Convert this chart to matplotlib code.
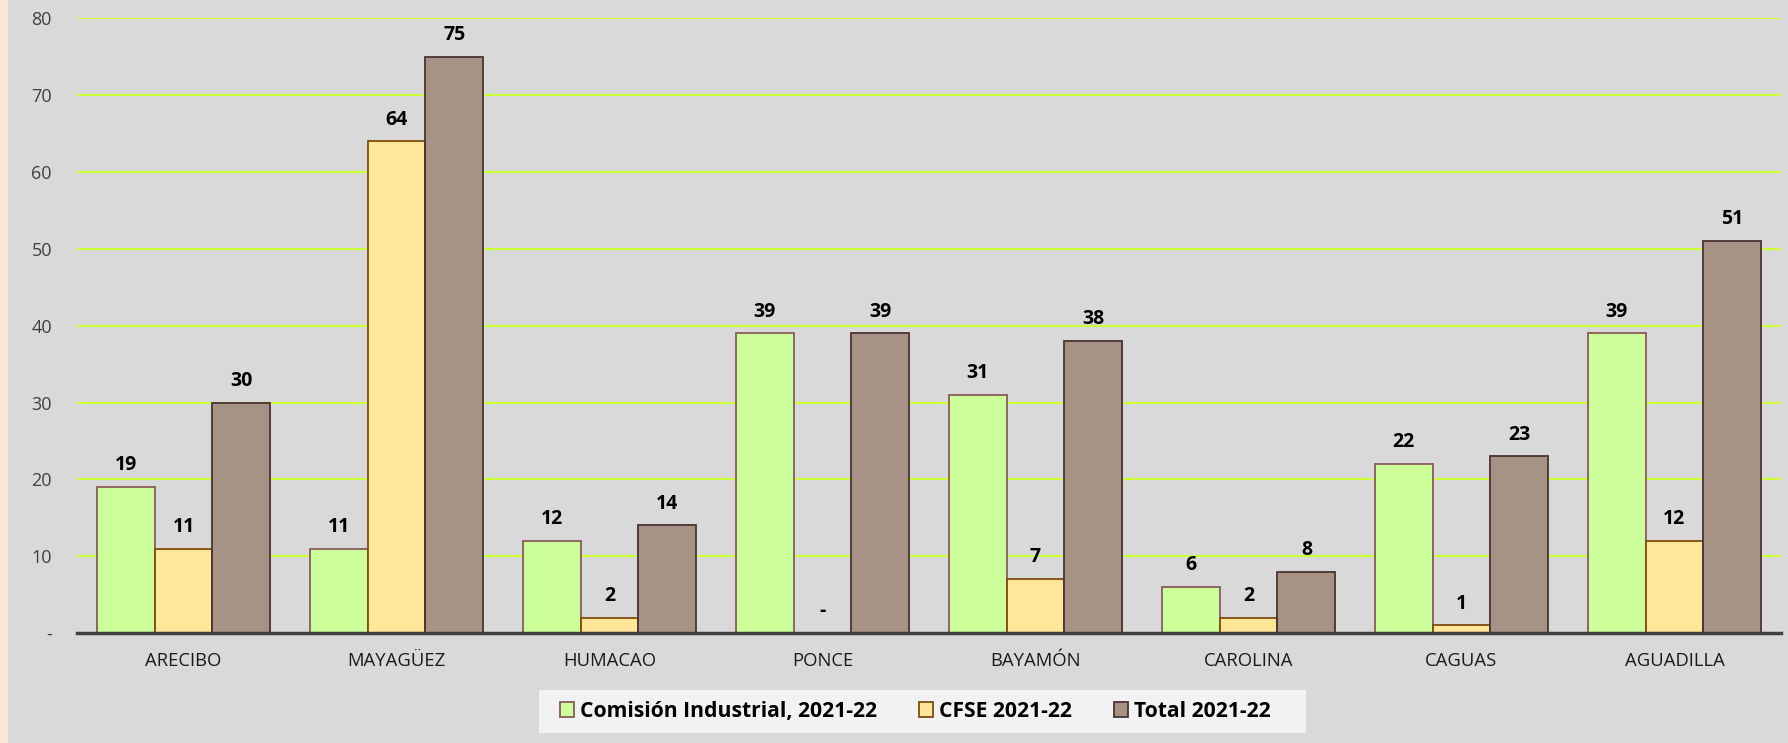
import matplotlib
matplotlib.use("Agg")
import matplotlib.pyplot as plt
import numpy as np
from matplotlib.patches import Rectangle

categories = ["ARECIBO", "MAYAGÜEZ", "HUMACAO", "PONCE", "BAYAMÓN", "CAROLINA", "CAGUAS", "AGUADILLA"]
comision = [19, 11, 12, 39, 31, 6, 22, 39]
cfse = [11, 64, 2, 0, 7, 2, 1, 12]
total = [30, 75, 14, 39, 38, 8, 23, 51]
series_names = ["Comisión Industrial, 2021-22", "CFSE 2021-22", "Total 2021-22"]
yticks = [0, 10, 20, 30, 40, 50, 60, 70, 80]
ytick_labels = ["-", "10", "20", "30", "40", "50", "60", "70", "80"]

W, H = 1788, 743
fig = plt.figure(figsize=(W / 100, H / 100), dpi=100)
fig.patch.set_facecolor("#D9D9D9")
fig.patches.append(Rectangle((0, 0), 8 / W, 1, transform=fig.transFigure,
                             facecolor="#FCE4D6", edgecolor="none"))
# legend background box
fig.patches.append(Rectangle((539 / W, 1 - 733 / H), (1306 - 539) / W, 43 / H,
                             transform=fig.transFigure, facecolor="#F2F2F2",
                             edgecolor="none", zorder=1))

ax = fig.add_axes([77 / W, 1 - 633 / H, (1781 - 77) / W, (633 - 18.5) / H])
ax.set_facecolor("#D9D9D9")

x = np.arange(len(categories))
bw = 0.272
fills = ["#CCFF99", "#FFE699", "#A69386"]
edges = ["#8A5A5A", "#7F4A10", "#4A3232"]
data = [comision, cfse, total]
for i, (vals, fc, ec, name) in enumerate(zip(data, fills, edges, series_names)):
    pos = x + (i - 1) * bw
    ax.bar(pos, vals, bw, color=fc, edgecolor=ec, linewidth=1.3, label=name, zorder=3)
    for p, v in zip(pos, vals):
        ax.annotate("-" if v == 0 else str(v), (p, v), xytext=(0, 8.5), textcoords="offset points",
                    ha="center", va="bottom", fontsize=14, fontweight="bold",
                    family="Open Sans", color="black", clip_on=False)

ax.set_xlim(-0.5, len(categories) - 0.5)
ax.set_ylim(0, 80)
ax.set_yticks(yticks)
ax.set_yticklabels(ytick_labels, family="Open Sans", fontsize=13, color="#404040")
ax.set_xticks(x)
ax.set_xticklabels(categories, family="Open Sans", fontsize=13.3, color="#1a1a1a")
ax.tick_params(axis="both", length=0)
ax.tick_params(axis="y", pad=18)
ax.tick_params(axis="x", pad=14)
ax.yaxis.grid(True, color="#CCFF33", linewidth=1.5, zorder=0)
ax.set_axisbelow(True)
for s in ["top", "right", "left"]:
    ax.spines[s].set_visible(False)
ax.spines["bottom"].set_color("#404040")
ax.spines["bottom"].set_linewidth(2.5)
ax.spines["bottom"].set_zorder(4)

leg = fig.legend(loc="center", bbox_to_anchor=(915 / W, 1 - 711.5 / H),
                 ncol=3, frameon=False,
                 prop={"family": "Open Sans", "weight": "bold", "size": 15.2},
                 handlelength=0.66, handleheight=0.66, handletextpad=0.28, columnspacing=2.0,
                 borderpad=0.1)
leg.set_zorder(5)

fig.savefig("out.png", dpi=100, facecolor=fig.get_facecolor())
